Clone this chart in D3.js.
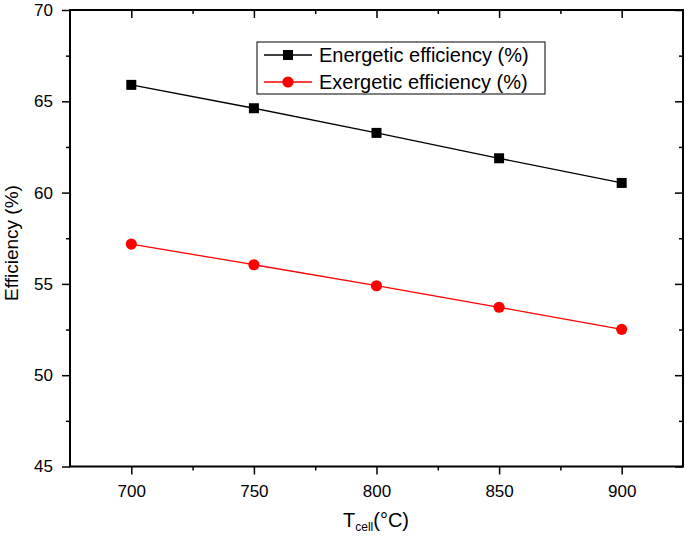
<!DOCTYPE html>
<html><head><meta charset="utf-8">
<script src="https://cdn.jsdelivr.net/npm/d3@7"></script>
<style>body{margin:0;background:#fff;}svg{display:block;font-family:Arial,"Liberation Sans",sans-serif;}</style>
</head><body>
<svg id="c" width="685" height="537"></svg>
<script>
const temps = [700, 750, 800, 850, 900];
const energetic = [65.9, 64.62, 63.27, 61.88, 60.53];
const exergetic = [57.18, 56.05, 54.9, 53.72, 52.51];
const xTicks = [700, 750, 800, 850, 900];
const xMinor = [725, 775, 825, 875];
const yTicks = [45, 50, 55, 60, 65, 70];
const yMinor = [47.5, 52.5, 57.5, 62.5, 67.5];
const seriesNames = ["Energetic efficiency (%)", "Exergetic efficiency (%)"];
const seriesColors = ["#000000", "#ff0000"];

const svg = d3.select("#c");
const L = 70, R = 683, T = 10, B = 466.5;
const x = d3.scaleLinear().domain([675, 925]).range([L, R]);
const y = d3.scaleLinear().domain([45, 70]).range([B, T]);

const ax = (g, axis) => g.call(axis).call(s => s.select(".domain").remove());
// bottom
svg.append("g").attr("transform", `translate(0,${B})`)
  .call(g => ax(g, d3.axisBottom(x).tickValues(xTicks).tickSize(8).tickPadding(10).tickFormat(d3.format("d"))))
  .call(g => g.selectAll("text").attr("font-size", 17).attr("fill", "#000"));
svg.append("g").attr("transform", `translate(0,${B})`)
  .call(g => ax(g, d3.axisBottom(x).tickValues(xMinor).tickSize(4).tickFormat("")));
// top (inward)
svg.append("g").attr("transform", `translate(0,${T})`)
  .call(g => ax(g, d3.axisBottom(x).tickValues(xTicks).tickSize(8).tickFormat("")));
svg.append("g").attr("transform", `translate(0,${T})`)
  .call(g => ax(g, d3.axisBottom(x).tickValues(xMinor).tickSize(4).tickFormat("")));
// left
svg.append("g").attr("transform", `translate(${L},0)`)
  .call(g => ax(g, d3.axisLeft(y).tickValues(yTicks).tickSize(8).tickPadding(9).tickFormat(d3.format("d"))))
  .call(g => g.selectAll("text").attr("font-size", 17).attr("fill", "#000"));
svg.append("g").attr("transform", `translate(${L},0)`)
  .call(g => ax(g, d3.axisLeft(y).tickValues(yMinor).tickSize(4).tickFormat("")));
// right (inward)
svg.append("g").attr("transform", `translate(${R},0)`)
  .call(g => ax(g, d3.axisLeft(y).tickValues(yTicks).tickSize(8).tickFormat("")));
svg.append("g").attr("transform", `translate(${R},0)`)
  .call(g => ax(g, d3.axisLeft(y).tickValues(yMinor).tickSize(4).tickFormat("")));
svg.selectAll(".tick line").attr("stroke", "#000").attr("stroke-width", 1.5);

// frame
svg.append("rect").attr("x", L).attr("y", T).attr("width", R - L).attr("height", B - T)
  .attr("fill", "none").attr("stroke", "#000").attr("stroke-width", 2);

// series
const line = d3.line().x((d, i) => x(temps[i])).y(d => y(d));
[energetic, exergetic].forEach((vals, k) => {
  svg.append("path").datum(vals).attr("d", line).attr("fill", "none")
    .attr("stroke", seriesColors[k]).attr("stroke-width", 1.3);
});
svg.append("g").selectAll("rect").data(energetic).join("rect")
  .attr("x", (d, i) => x(temps[i]) - 5).attr("y", d => y(d) - 5)
  .attr("width", 10).attr("height", 10).attr("fill", "#000");
svg.append("g").selectAll("circle").data(exergetic).join("circle")
  .attr("cx", (d, i) => x(temps[i])).attr("cy", d => y(d)).attr("r", 5.6).attr("fill", "#ff0000");

// legend
const lg = svg.append("g");
lg.append("rect").attr("x", 257).attr("y", 42).attr("width", 288).attr("height", 52)
  .attr("fill", "#fff").attr("stroke", "#000").attr("stroke-width", 1);
seriesNames.forEach((n, k) => {
  const yy = 55 + k * 27;
  lg.append("line").attr("x1", 264).attr("x2", 312).attr("y1", yy).attr("y2", yy)
    .attr("stroke", seriesColors[k]).attr("stroke-width", 1.3);
  if (k === 0) lg.append("rect").attr("x", 283).attr("y", yy - 5).attr("width", 10).attr("height", 10).attr("fill", "#000");
  else lg.append("circle").attr("cx", 288).attr("cy", yy).attr("r", 5.6).attr("fill", "#ff0000");
  lg.append("text").attr("x", 319).attr("y", yy + 7).attr("font-size", 20).attr("fill", "#000").text(n);
});

// axis titles
svg.append("text").attr("transform", "translate(18,243) rotate(-90)").attr("text-anchor", "middle")
  .attr("font-size", 19).attr("fill", "#000").text("Efficiency (%)");
const xt = svg.append("text").attr("x", 376).attr("y", 527).attr("text-anchor", "middle").attr("fill", "#000").attr("font-size", 20);
xt.append("tspan").text("T");
xt.append("tspan").attr("font-size", 12).attr("dy", 4).text("cell");
xt.append("tspan").attr("dy", -4).text("(°C)");
</script>
</body></html>
